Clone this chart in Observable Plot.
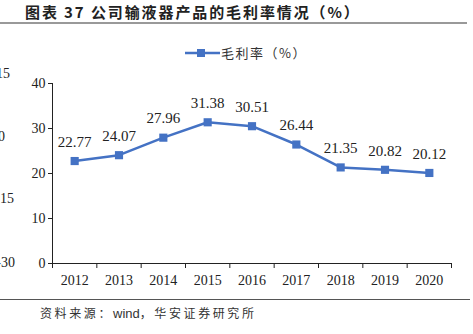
<!DOCTYPE html>
<html><head><meta charset="utf-8">
<script src="https://cdn.jsdelivr.net/npm/d3@7"></script>
<script src="https://cdn.jsdelivr.net/npm/@observablehq/plot@0.6"></script>
<style>
body{margin:0;background:#fff;}
#wrap{position:relative;width:473px;height:334px;overflow:hidden;background:#fff;font-family:"Liberation Serif",serif;}
.abs{position:absolute;white-space:nowrap;}
#title{left:25px;top:2px;font-family:"Noto Sans CJK SC",sans-serif;font-weight:bold;font-size:15px;color:#222;line-height:20px;letter-spacing:1.9px;}
#tline{left:0;top:22px;width:467px;height:2px;background:#999;}
#bline{left:0;top:299px;width:470px;height:1px;background:#555;}
#source{left:40px;top:304px;font-family:"Noto Sans CJK SC",sans-serif;font-size:12px;color:#333;line-height:18px;letter-spacing:2.6px;}
#source .latin{letter-spacing:0;font-family:"Liberation Sans",sans-serif;font-size:13px;}
#legend{left:185px;top:44px;font-family:"Noto Sans CJK SC",sans-serif;font-size:13px;color:#333;line-height:18px;display:flex;align-items:center;letter-spacing:1.5px;}
.frag{font-size:14px;color:#222;text-align:right;width:40px;line-height:14px;}
#chart{position:absolute;left:0;top:0;}
#chart svg text{font-family:"Liberation Serif",serif !important;}
</style></head>
<body><div id="wrap">
<div id="chart"></div>
<div class="abs" id="title">图表 37 公司输液器产品的毛利率情况（%）</div>
<div class="abs" id="tline"></div>
<div class="abs" id="legend"><svg width="35" height="10" style="margin-right:1px"><line x1="0" y1="5" x2="35" y2="5" stroke="#4472C4" stroke-width="2.5"/><rect x="12" y="1" width="8" height="8" fill="#4472C4"/></svg><span>毛利率（%）</span></div>
<div class="abs frag" style="left:-30px;top:67px">15</div>
<div class="abs frag" style="left:-35px;top:130px">0</div>
<div class="abs frag" style="left:-26px;top:192px">-15</div>
<div class="abs frag" style="left:-25px;top:256px">-30</div>
<div class="abs" id="bline"></div>
<div class="abs" id="source">资料来源：<span class="latin">wind</span>，华安证券研究所</div>
</div>
<script>
const years = [2012, 2013, 2014, 2015, 2016, 2017, 2018, 2019, 2020];
const margins = [22.77, 24.07, 27.96, 31.38, 30.51, 26.44, 21.35, 20.82, 20.12];
const yTicks = [0, 10, 20, 30, 40];
const data = years.map((y, i) => ({year: y, value: margins[i]}));
const bounds = [years[0] - 0.5, ...years.map(y => y + 0.5)];
const color = "#4472C4";
const serif = "'Liberation Serif', serif";

const chart = Plot.plot({
  width: 473,
  height: 334,
  marginTop: 83,
  marginBottom: 71,
  marginLeft: 52,
  marginRight: 22,
  style: {fontFamily: serif, fontSize: "13px", color: "#222", background: "transparent"},
  x: {type: "linear", domain: [bounds[0], bounds[bounds.length - 1]]},
  y: {domain: [0, 40]},
  marks: [
    Plot.axisY({ticks: yTicks, tickSize: 4, tickPadding: 3, label: null, fontSize: 14, fontFamily: serif}),
    Plot.axisX({ticks: bounds, tickSize: 5, tickFormat: () => "", label: null}),
    Plot.axisX({ticks: years, tickSize: 0, tickPadding: 12, tickFormat: d => String(d), label: null, fontSize: 14, fontFamily: serif}),
    Plot.ruleX([bounds[0]], {y1: 0, y2: 40, stroke: "#222"}),
    Plot.ruleY([0], {stroke: "#222"}),
    Plot.line(data, {x: "year", y: "value", stroke: color, strokeWidth: 2.5}),
    Plot.dot(data, {x: "year", y: "value", symbol: "square", r: 4.6, fill: color, stroke: "none"}),
    Plot.text(data, {x: "year", y: "value", text: d => d.value.toFixed(2), dy: -19, fontSize: 15, fill: "#222", fontFamily: serif})
  ]
});
document.getElementById("chart").appendChild(chart);
</script>
</body></html>
